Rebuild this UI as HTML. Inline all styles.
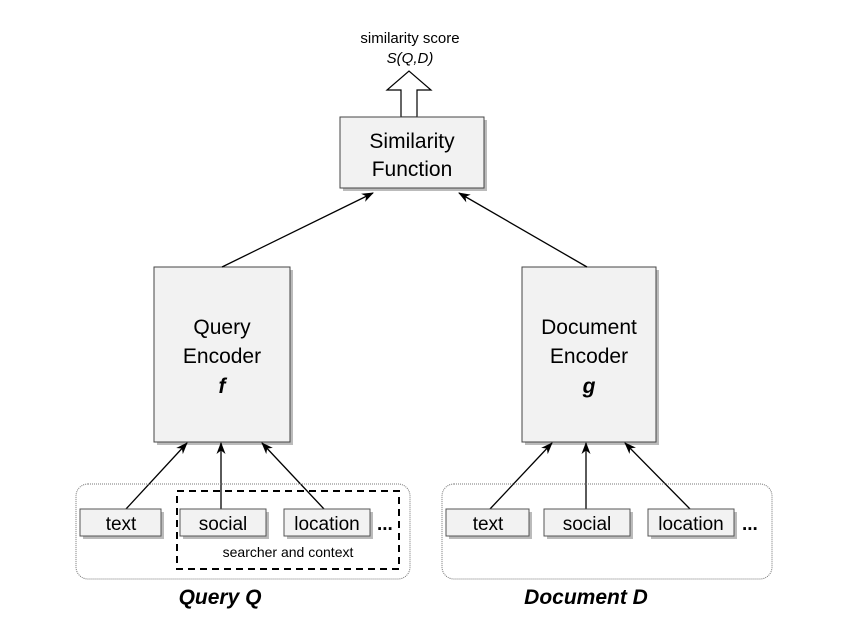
<!DOCTYPE html>
<html><head><style>
body{margin:0;background:#fff;}
svg text{font-family:"Liberation Sans",sans-serif;fill:#000;}
</style></head><body>
<svg width="860" height="620" viewBox="0 0 860 620" xmlns="http://www.w3.org/2000/svg">
<defs>
<marker id="a" markerWidth="12" markerHeight="12" refX="11" refY="6" orient="auto" markerUnits="userSpaceOnUse"><path d="M0,1.5 L12,6 L0,10.5 L3.5,6 Z" fill="#000"/></marker>
</defs>
<text x="410" y="43" font-size="15" text-anchor="middle">similarity score</text>
<text x="410" y="63" font-size="15" font-style="italic" text-anchor="middle">S(Q,D)</text>
<path d="M401,117 L401,90 L387,90 L409,71 L431,90 L417,90 L417,117 Z" fill="#fff" stroke="#000" stroke-width="1.2"/>
<rect x="343" y="120" width="144" height="71" fill="#bbb"/>
<rect x="157" y="270" width="136" height="175" fill="#bbb"/>
<rect x="525" y="270" width="134" height="175" fill="#bbb"/>
<rect x="340" y="117" width="144" height="71" fill="#f2f2f2" stroke="#444"/>
<text x="412" y="148" font-size="21" text-anchor="middle">Similarity</text>
<text x="412" y="176" font-size="21" text-anchor="middle">Function</text>
<rect x="154" y="267" width="136" height="175" fill="#f2f2f2" stroke="#444"/>
<text x="222" y="334" font-size="21" text-anchor="middle">Query</text>
<text x="222" y="363" font-size="21" text-anchor="middle">Encoder</text>
<text x="222" y="393" font-size="21" font-weight="bold" font-style="italic" text-anchor="middle">f</text>
<rect x="522" y="267" width="134" height="175" fill="#f2f2f2" stroke="#444"/>
<text x="589" y="334" font-size="21" text-anchor="middle">Document</text>
<text x="589" y="363" font-size="21" text-anchor="middle">Encoder</text>
<text x="589" y="393" font-size="21" font-weight="bold" font-style="italic" text-anchor="middle">g</text>
<g stroke="#000" stroke-width="1.3" marker-end="url(#a)">
<line x1="222" y1="267" x2="373" y2="193"/>
<line x1="587" y1="267" x2="459" y2="193"/>
<line x1="126" y1="509" x2="187" y2="443"/>
<line x1="221" y1="509" x2="221" y2="443"/>
<line x1="324" y1="509" x2="262" y2="443"/>
<line x1="490" y1="509" x2="552" y2="443"/>
<line x1="586" y1="509" x2="586" y2="443"/>
<line x1="690" y1="509" x2="625" y2="443"/>
</g>
<rect x="76" y="484" width="334" height="95" rx="12" fill="none" stroke="#777" stroke-dasharray="1,1"/>
<rect x="442" y="484" width="330" height="95" rx="12" fill="none" stroke="#777" stroke-dasharray="1,1"/>
<g fill="#bbb">
<rect x="83" y="512" width="81" height="27"/><rect x="183" y="512" width="86" height="27"/><rect x="287" y="512" width="86" height="27"/>
<rect x="449" y="512" width="83" height="27"/><rect x="547" y="512" width="86" height="27"/><rect x="651" y="512" width="86" height="27"/>
</g>
<g fill="#f2f2f2" stroke="#555">
<rect x="80" y="509" width="81" height="27"/><rect x="180" y="509" width="86" height="27"/><rect x="284" y="509" width="86" height="27"/>
<rect x="446" y="509" width="83" height="27"/><rect x="544" y="509" width="86" height="27"/><rect x="648" y="509" width="86" height="27"/>
</g>
<g font-size="19" text-anchor="middle">
<text x="121" y="530">text</text><text x="223" y="530">social</text><text x="327" y="530">location</text>
<text x="488" y="530">text</text><text x="587" y="530">social</text><text x="691" y="530">location</text>
</g>
<text x="377" y="530" font-size="19" font-weight="bold">...</text>
<text x="742" y="530" font-size="19" font-weight="bold">...</text>
<rect x="177" y="491" width="222" height="78" fill="none" stroke="#000" stroke-width="2" stroke-dasharray="7,5"/>
<text x="288" y="557" font-size="14" text-anchor="middle">searcher and context</text>
<text x="220" y="604" font-size="21" font-weight="bold" font-style="italic" text-anchor="middle">Query Q</text>
<text x="586" y="604" font-size="21" font-weight="bold" font-style="italic" text-anchor="middle">Document D</text>
</svg>
</body></html>
